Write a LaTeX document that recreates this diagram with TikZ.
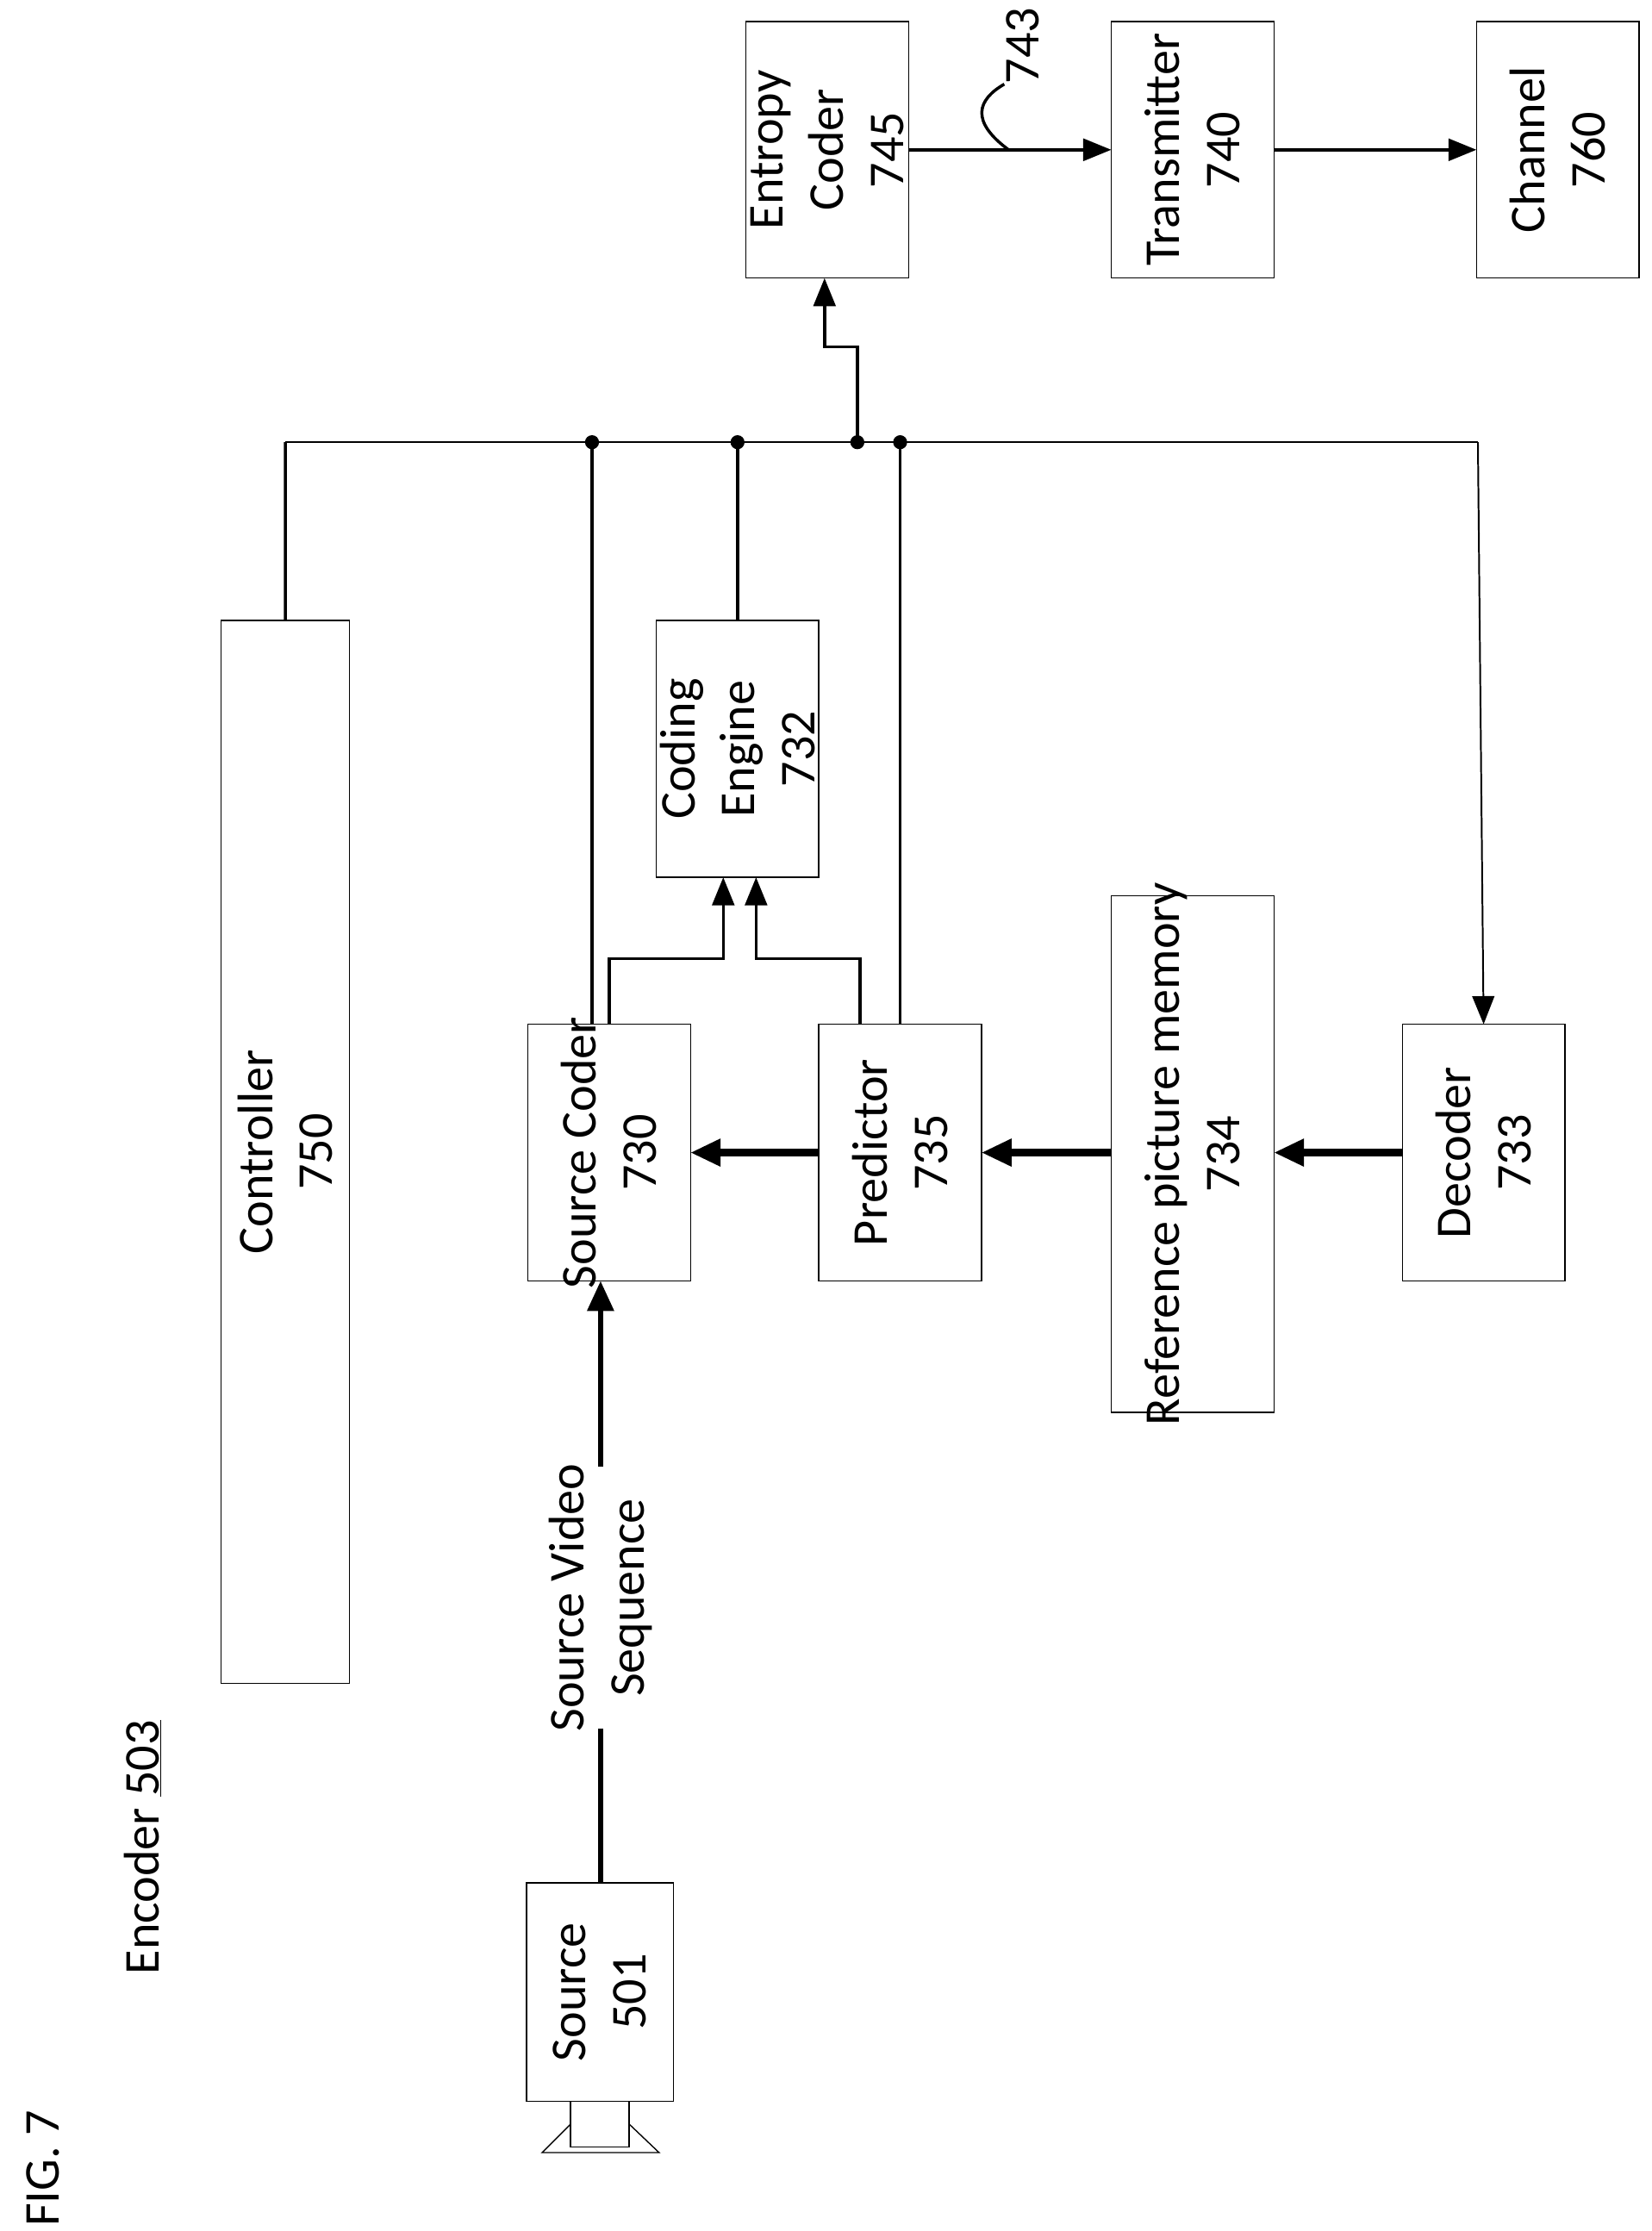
\documentclass[tikz,border=0pt]{standalone}
\usepackage{fontspec}
\setmainfont{Carlito}
\usetikzlibrary{arrows.meta,calc}
\tikzset{
  blk/.style={draw, line width=1.2pt, inner sep=0pt},
  lbl/.style={rotate=90, align=center, font=\fontsize{50}{60}\selectfont},
  sig/.style={line width=3pt},
  fat/.style={line width=7pt, -{Triangle[length=30pt,width=26pt]}},
  tip/.style={-{Triangle[length=28pt,width=22pt]}},
  dot/.style={circle, fill, inner sep=0pt, minimum size=14pt}
}
\newcommand{\blok}[6]{\draw[blk] (#2,#3) rectangle (#4,#5);
  \node (#1) [lbl] at ($(#2,#3)!.5!(#4,#5)$) {#6};
  \coordinate (#1n) at ($(#2,#3)!.5!(#4,#3)$);
  \coordinate (#1s) at ($(#2,#5)!.5!(#4,#5)$);}
\begin{document}
\begin{tikzpicture}[x=0.05cm, y=-0.05cm]
  \useasboundingbox (0,0) rectangle (1158,1564);
  % boxes
  \blok{ent}{523}{15}{637}{195}{Entropy\\Coder\\745}
  \blok{tx}{779}{15}{893}{195}{Transmitter\\740}
  \blok{ch}{1035}{15}{1149}{195}{Channel\\760}
  \blok{ctl}{155}{435}{245}{1180}{Controller\\750}
  \blok{eng}{460}{435}{574}{615}{Coding\\Engine\\732}
  \blok{sc}{370}{718}{484}{898}{Source Coder\\730}
  \blok{pr}{574}{718}{688}{898}{Predictor\\735}
  \blok{ref}{779}{628}{893}{990}{Reference picture memory\\734}
  \blok{dec}{983}{718}{1097}{898}{Decoder\\733}
  \blok{src}{369}{1320}{472}{1473}{Source\\501}
  % camera
  \draw[line width=1.2pt] (400,1473) rectangle (441,1505);
  \draw[line width=1.2pt] (400,1489) -- (380,1509) -- (462,1509) -- (441,1489);
  % outputs
  \draw[sig, tip] (637,105) -- (779,105);
  \draw[sig, tip] (893,105) -- (1035,105);
  \draw[sig] (707,105) .. controls (680,85) and (685,70) .. (704,59);
  \node (n743) [lbl] at (717,32) {743};
  % bus
  \coordinate (bl) at (200,310);
  \coordinate (br) at (1036,310);
  \draw[line width=1.7pt] (bl) -- (br);
  \draw[sig] (ctl.center |- 0,435) -- (bl);
  \node (d1) [dot] at (415,310) {};
  \node (d2) [dot] at (517,310) {};
  \node (d3) [dot] at (601,310) {};
  \node (d4) [dot] at (631,310) {};
  \draw[sig] (d1.center) -- (415,718);
  \draw[sig] (d2.center) -- (eng.center |- 0,435);
  \draw[sig] (d4.center) -- (631,718);
  \draw[sig, tip] (d3.center) -- (601,243) -- (578,243) -- (578,195);
  \draw[line width=1.7pt, tip] (br) -- (1040,718);
  % engine inputs
  \draw[sig, tip] (427,718) -- (427,672) -- (507,672) -- (507,615);
  \draw[sig, tip] (603,718) -- (603,672) -- (530,672) -- (530,615);
  % data path
  \draw[fat] (574,808) -- (484,808);
  \draw[fat] (779,808) -- (688,808);
  \draw[fat] (983,808) -- (893,808);
  \draw[line width=5pt] (421,1320) -- (421,1212);
  \node (svs) [lbl] at (421,1120) {Source Video\\Sequence};
  \draw[line width=5pt, -{Triangle[length=30pt,width=26pt]}] (421,1028) -- (421,898);
  % captions
  \node (enc) [lbl] at (100,1295) {Encoder \underline{503}};
  \node (fig) [lbl] at (30,1520) {FIG. 7};
\end{tikzpicture}
\end{document}
